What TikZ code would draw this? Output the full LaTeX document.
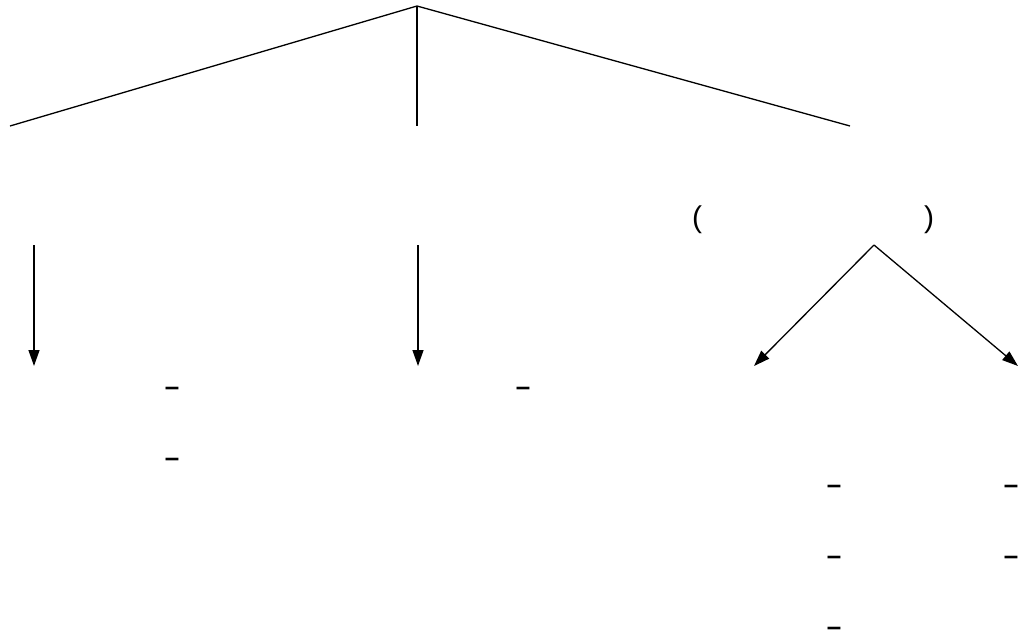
\documentclass[tikz,border=0pt]{standalone}
\usepackage{fontspec}
\setmainfont{Liberation Sans}
\usetikzlibrary{arrows.meta}
\begin{document}
\begin{tikzpicture}[x=1pt,y=-1pt,
  ln/.style={line width=1.3pt},
  arr/.style={ln,-{Triangle[length=16pt,width=11pt]}},
  txt/.style={inner sep=0pt,font=\fontsize{30}{36}\selectfont},
  dsh/.style={inner sep=0pt,font=\bfseries\fontsize{26}{30}\selectfont}]
\useasboundingbox (0,0) rectangle (1026,641);
\coordinate (top) at (417,6);
\coordinate (l) at (10,126);
\coordinate (m) at (417,126);
\coordinate (r) at (850,126);
\draw[ln] (l) -- (top) -- (r);
\draw[ln] (top) -- (m);
\coordinate (a1s) at (34,245);
\coordinate (a1e) at (34,366);
\coordinate (a2s) at (418,245);
\coordinate (a2e) at (418,366);
\draw[arr] (a1s) -- (a1e);
\draw[arr] (a2s) -- (a2e);
\node[txt] (lp) at (697,220) {(};
\node[txt] (rp) at (929,220) {)};
\coordinate (b) at (874,245);
\coordinate (bl) at (754,366);
\coordinate (br) at (1018,366);
\draw[arr] (b) -- (bl);
\draw[arr] (b) -- (br);
\node[dsh] (d1) at (172,391) {–};
\node[dsh] (d2) at (172,462) {–};
\node[dsh] (d3) at (523,391) {–};
\node[dsh] (d4) at (834,489) {–};
\node[dsh] (d5) at (1011,489) {–};
\node[dsh] (d6) at (834,560) {–};
\node[dsh] (d7) at (1011,560) {–};
\node[dsh] (d8) at (834,631) {–};
\end{tikzpicture}
\end{document}
